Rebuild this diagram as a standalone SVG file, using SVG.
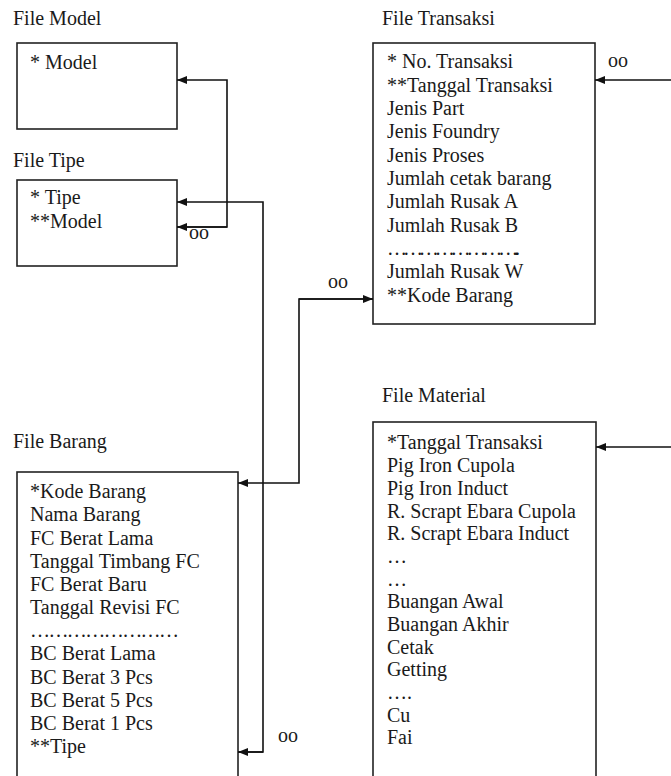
<svg xmlns="http://www.w3.org/2000/svg" width="671" height="776" viewBox="0 0 671 776">
<style>
text{font-family:"Liberation Serif","Times New Roman",serif;font-size:20px;fill:#1a1a1a}
.box{fill:#fff;stroke:#222;stroke-width:1.6}
.ln{fill:none;stroke:#111;stroke-width:1.6}
</style>
<defs>
<marker id="ah" markerWidth="10" markerHeight="8" refX="10" refY="4" orient="auto" markerUnits="userSpaceOnUse">
<path d="M0,0 L10,4 L0,8 Z" fill="#111"/>
</marker>
</defs>
<rect width="671" height="776" fill="#fff"/>

<g id="model">
<text x="13" y="25">File Model</text>
<rect class="box" x="17" y="43" width="160" height="86"/>
<text x="30" y="69">* Model</text>
</g>

<g id="tipe">
<text x="13" y="167">File Tipe</text>
<rect class="box" x="17" y="180" width="160" height="86"/>
<text x="30" y="204">* Tipe</text>
<text x="30" y="228">**Model</text>
</g>

<g id="transaksi">
<text x="382" y="25">File Transaksi</text>
<rect class="box" x="373" y="43" width="222" height="281"/>
<text x="387" y="68">* No. Transaksi</text>
<text x="387" y="91.5">**Tanggal Transaksi</text>
<text x="387" y="115">Jenis Part</text>
<text x="387" y="138">Jenis Foundry</text>
<text x="387" y="161.5">Jenis Proses</text>
<text x="387" y="185">Jumlah cetak barang</text>
<text x="387" y="208">Jumlah Rusak A</text>
<text x="387" y="231.5">Jumlah Rusak B</text>
<text x="387" y="255" textLength="133" lengthAdjust="spacing">……………………..</text>
<text x="387" y="278">Jumlah Rusak W</text>
<text x="387" y="302">**Kode Barang</text>
</g>

<g id="barang">
<text x="13" y="448">File Barang</text>
<rect class="box" x="17" y="472" width="221" height="320"/>
<text x="30" y="498">*Kode Barang</text>
<text x="30" y="521">Nama Barang</text>
<text x="30" y="544.5">FC Berat Lama</text>
<text x="30" y="568">Tanggal Timbang FC</text>
<text x="30" y="591">FC Berat Baru</text>
<text x="30" y="614">Tanggal Revisi FC</text>
<text x="30" y="637" textLength="149" lengthAdjust="spacing">……………………</text>
<text x="30" y="660">BC Berat Lama</text>
<text x="30" y="683.5">BC Berat 3 Pcs</text>
<text x="30" y="706.5">BC Berat 5 Pcs</text>
<text x="30" y="730">BC Berat 1 Pcs</text>
<text x="30" y="753">**Tipe</text>
</g>

<g id="material">
<text x="382" y="402">File Material</text>
<rect class="box" x="373" y="422" width="223" height="370"/>
<text x="387" y="449">*Tanggal Transaksi</text>
<text x="387" y="472">Pig Iron Cupola</text>
<text x="387" y="495">Pig Iron Induct</text>
<text x="387" y="517.5">R. Scrapt Ebara Cupola</text>
<text x="387" y="540">R. Scrapt Ebara Induct</text>
<text x="387" y="563">…</text>
<text x="387" y="585.5">…</text>
<text x="387" y="608">Buangan Awal</text>
<text x="387" y="631">Buangan Akhir</text>
<text x="387" y="653.5">Cetak</text>
<text x="387" y="676">Getting</text>
<text x="387" y="699">….</text>
<text x="387" y="721.5">Cu</text>
<text x="387" y="744">Fai</text>
</g>

<g id="connectors">
<polyline class="ln" points="177,227 227,227 227,80 177,80" marker-end="url(#ah)"/>
<path class="ln" d="M227,227 L177,227" marker-end="url(#ah)"/>
<text x="189" y="239">oo</text>
<polyline class="ln" points="238,752 263,752 263,202 177,202" marker-end="url(#ah)"/>
<path class="ln" d="M263,752 L238,752" marker-end="url(#ah)"/>
<text x="278" y="742">oo</text>
<polyline class="ln" points="373,299 299,299 299,483 238,483" marker-end="url(#ah)"/>
<path class="ln" d="M299,299 L373,299" marker-end="url(#ah)"/>
<text x="328" y="288">oo</text>
<path class="ln" d="M671,80 L595,80" marker-end="url(#ah)"/>
<text x="608" y="67">oo</text>
<path class="ln" d="M671,447 L596,447" marker-end="url(#ah)"/>
</g>
</svg>
